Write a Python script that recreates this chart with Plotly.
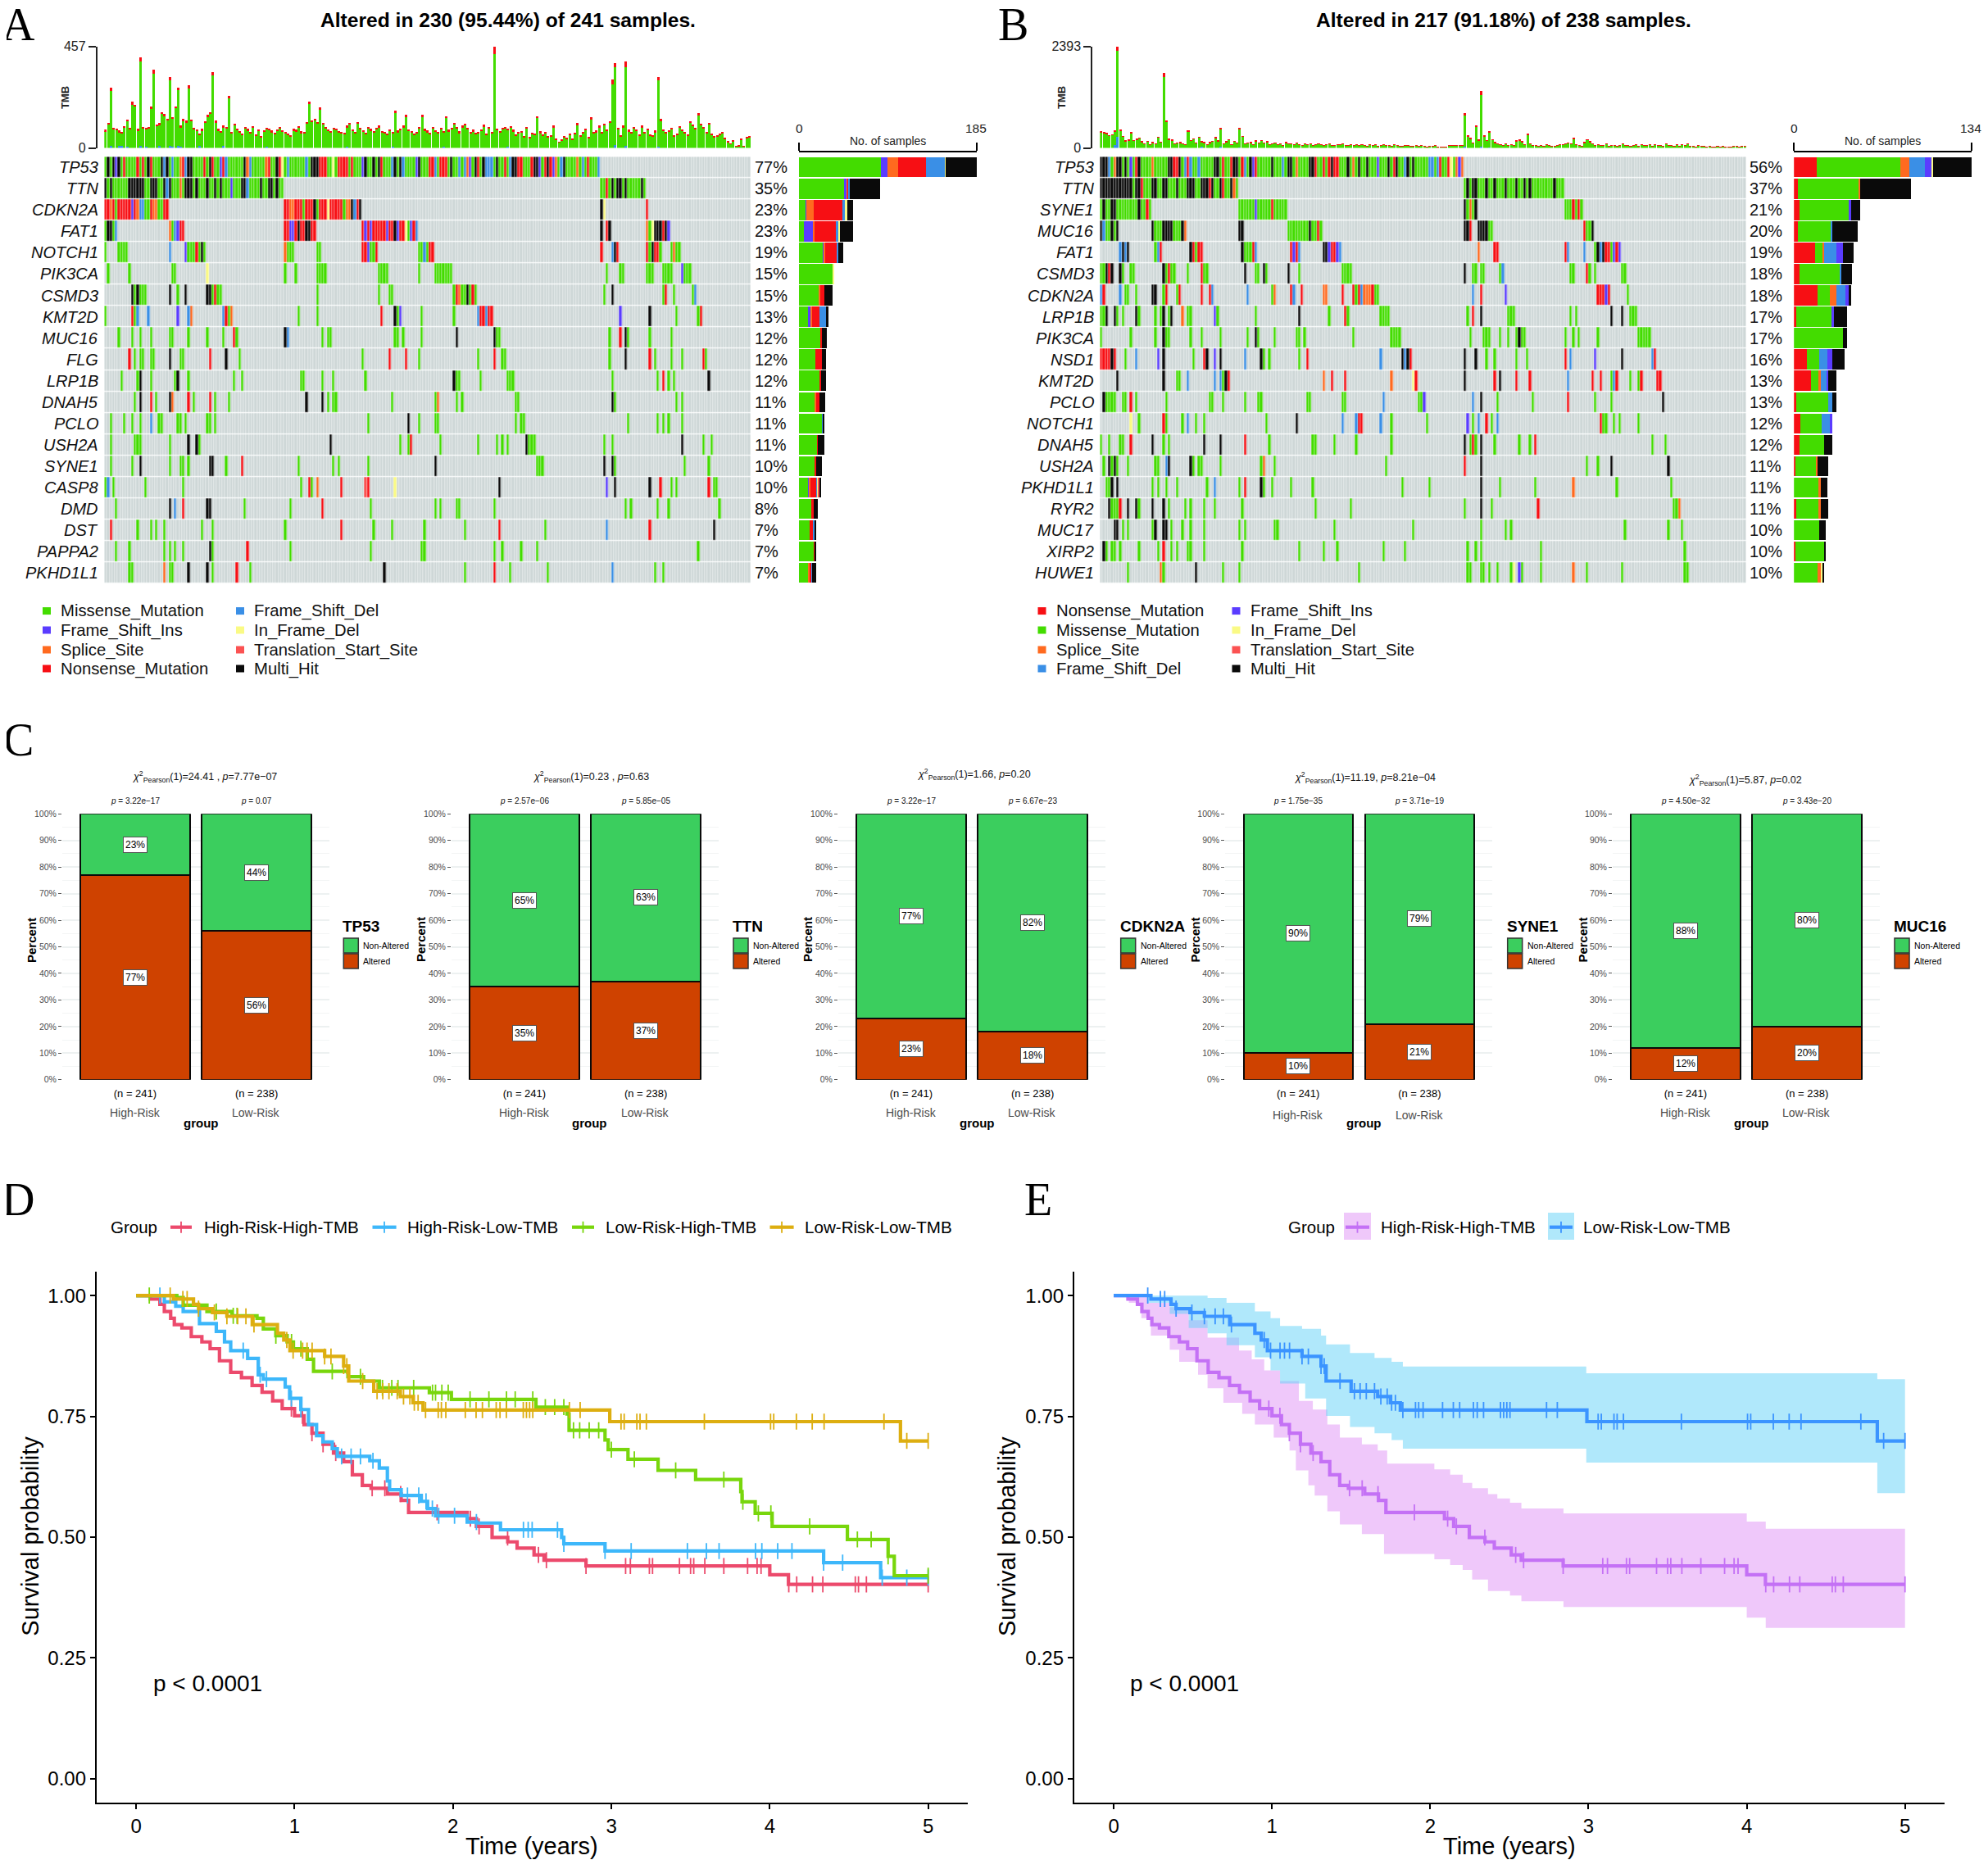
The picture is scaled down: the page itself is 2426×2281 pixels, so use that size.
import plotly.graph_objects as go

# page size minus the 8px body margin the browser adds round the plot
PAD = 8
PW = 2426 - 2 * PAD
PH = 2281 - 2 * PAD

SANS = "Liberation Sans"
SERIF = "Liberation Serif"

# ---------- oncoplot data ----------
genes_a = ["TP53", "TTN", "CDKN2A", "FAT1", "NOTCH1", "PIK3CA", "CSMD3", "KMT2D", "MUC16", "FLG",
           "LRP1B", "DNAH5", "PCLO", "USH2A", "SYNE1", "CASP8", "DMD", "DST", "PAPPA2", "PKHD1L1"]
pct_a = [77, 35, 23, 23, 19, 15, 15, 13, 12, 12, 12, 11, 11, 11, 10, 10, 8, 7, 7, 7]
genes_b = ["TP53", "TTN", "SYNE1", "MUC16", "FAT1", "CSMD3", "CDKN2A", "LRP1B", "PIK3CA", "NSD1",
           "KMT2D", "PCLO", "NOTCH1", "DNAH5", "USH2A", "PKHD1L1", "RYR2", "MUC17", "XIRP2", "HUWE1"]
pct_b = [56, 37, 21, 20, 19, 18, 18, 17, 17, 16, 13, 13, 12, 12, 11, 11, 11, 10, 10, 10]

# "start:letters", one letter per sample:
# M missense, I frame ins, S splice, N nonsense, D frame del, F in frame del, T start site, K multi hit
muts_a = [
    "0:MKMKIKMNMMMMNMNMKNMM 20:MKDKMDMMSNDKKMMMMNMK 40:NMMINDMMMMMMKSDMMMMM 60:SNMMKNFMDMMMMMMDMKKK 80:NNNMMFMNNNNMNMMMIKMM 100:KMKNMMMDKMKDMMMMIKMM 120:MNNDMNNNMKMMDMDSIMKN 140:MKDDDMKMMNMDKKNNMMMN 160:KKIMNKNISMDKMMMMSMDM 180:NMMMD",
    "0:KMKMMMMMMKKKKKKMMKKK 20:MMKDKMMMSMKKKMKMMMKM 40:MKMKMMMIMMMKKDMMMMKM 60:MKKMKMM 185:MMNMKMKKMKMMMMMKM",
    "0:NNSNMNNNNNINSDDMMNSSMMNN 67:NNSSNNNMNNNKMNNNFNNNNNMSSKDNK 185:KF 202:N",
    "0:MKKMD 24:SMDINN 67:NNIINKNNKKNN 96:NININNNNNINNKINNFMIND 185:K 187:NK 202:SMFKKKNKI",
    "0:M 5:MMMM 24:D 30:IMMMNMKM 67:SMMM 79:MM 96:NNIMMN 117:MMDMNN 185:N 189:DKN 202:NMKNNM 211:MSMM",
    "1:M 9:M 25:MM 38:F 67:M 71:M 79:MMMM 102:MMMM 117:M 123:MMMMMMM 187:M 192:MM 202:MMM 208:MMMM 215:IMMM",
    "10:KMKMMM 24:K 27:M 30:K 38:KKMNMM 79:M 102:M 106:MM 130:MNSMMKMNM 186:M 189:K 208:MN 212:M 219:MD",
    "0:M 10:NMD 16:D 27:I 31:DS 44:DNMS 72:M 79:M 103:N 108:KMI 118:M 130:M 139:DNNDNN 192:I 203:K 213:M 221:MN",
    "5:M 10:M 13:M 17:M 24:MM 31:M 38:M 44:M 48:NM 67:KD 81:M 83:MM 108:MM 111:M 118:M 131:K 145:KM 147:M 188:M 192:N 194:KM 203:M 211:M",
    "9:N 11:M 13:MM 17:MM 24:K 28:MM 39:N 45:K 50:M 96:M 106:N 112:N 117:M 139:M 145:N 148:MM 188:M 194:K 203:N 205:M 211:M 215:M 223:NM",
    "6:M 12:MK 17:M 26:MK 31:M 48:M 51:M 73:MM 81:M 85:M 97:M 130:KMM 140:M 150:MMM 189:M 206:M 208:N 210:M 212:M 225:K",
    "11:M 13:K 17:N 19:M 24:KS 31:N 33:M 39:N 41:M 46:M 75:K 81:K 83:M 85:MM 107:M 123:MS 131:M 133:M 153:MM 189:KM 213:M 215:M",
    "2:M 7:M 10:M 13:M 17:D 20:MM 27:MM 30:M 38:MM 41:M 98:M 113:K 117:M 123:MM 153:M 155:MM 195:M 206:M 208:M 210:M 215:M",
    "2:M 11:MMM 24:M 31:K 34:KM 84:K 110:M 113:MN 125:M 139:M 146:M 148:M 150:M 157:KMMM 186:M 189:M 215:K 223:M 226:M",
    "2:M 10:M 13:K 24:M 28:MM 31:M 39:KK 45:M 51:N 72:M 85:M 87:M 98:M 123:K 161:MMM 186:K 189:KM 216:M 225:M",
    "0:MD 3:M 15:M 29:M 73:M 76:NM 79:S 88:N 97:TN 108:F 147:K 187:I 190:K 203:K 207:N 211:M 213:M 225:N 227:MM",
    "4:M 24:K 26:D 29:N 38:KK 52:M 69:M 81:N 99:M 123:M 125:M 131:MM 145:M 194:M 196:M 206:M 210:M 229:M",
    "2:N 12:M 17:M 19:M 22:M 36:M 40:M 67:M 88:N 100:M 107:M 119:M 134:M 147:N 164:M 187:D 203:N 227:K",
    "4:M 9:M 22:M 24:M 26:M 29:M 39:KM 53:N 69:M 99:M 118:MM 145:M 148:M 155:M 161:M 221:M",
    "9:MM 22:S 24:MM 31:K 38:K 40:M 49:N 54:M 104:K 134:M 145:N 151:M 165:M 189:D 205:M 208:M",
]
muts_b = [
    "0:KKKDMSKKMKMIMNKMMMMS 20:MMMMMKKNNKMDNDMMDMMM 40:MMKKMNMMNKKMNDMKINMM 60:MMMKMMMDMKKMSMMMMKKN 80:MMNMNKNNMMMKMSMKMMKM 100:MMIMMMKMNKMMDKMKMMMM 120:MDDMDNMMNFMSIS",
    "0:KKKKKKKKKKKKMKKNMMMK 20:KMMKKMMMKMMMKKKMMKKK 40:NKMMKNMMKSM 134:MKMKKMMMKMMKMMMKMMMK 154:MMKMKMMMMMMMMKMMM",
    "0:MKMMKK 6:MMMMMMMMKMMNM 51:MMMMMMIMMMMMNMMMMM 134:KMSMK 171:MMMNMNM",
    "0:KDMMKMK 19:KMMMKKKKMMMKS 51:KK 69:MMMMMMMMKMMNM 134:KKN 139:KKKKMM 178:NMMK",
    "7:DKDK 20:MDN 33:KNMNN 52:K 53:MMMND 70:NIND 82:KKINNID 139:S 145:NN 171:ND 178:D 182:MKDKNNMINI",
    "0:MMKNK 7:KM 11:MM 23:KMNMM 32:M 37:NM 39:M 53:K 57:MM 60:KM 69:K 73:M 89:MMMM 134:K 137:MM 140:MM 147:MD 173:MM 179:NM 182:M 192:MM",
    "0:DN 7:D 9:MM 13:M 19:KK 23:MN 28:MN 37:N 40:ND 54:D 63:MS 70:ND 74:N 82:SS 89:N 93:NMNDSSSNMM 137:D 140:N 149:I 183:NNNIN 194:M",
    "0:MMK 5:KM 8:M 13:KM 20:M 22:MK 25:MK 30:S 32:MM 42:IM 57:M 73:K 84:M 90:NM 103:MMMM 135:M 137:N 140:K 150:MMM 173:M 175:M 188:K 192:K 195:MMM",
    "0:M 11:M 20:M 23:KMM 33:M 37:M 44:M 54:M 57:KM 64:M 72:MM 75:M 93:M 107:MMMM 136:M 141:MMM 147:M 150:M 153:MKMM 171:M 174:M 176:M 183:M 198:MMMMM",
    "0:NNNNKN 9:M 13:D 21:I 23:K 34:M 38:NK 42:I 44:K 53:D 59:KM 62:M 73:M 76:N 103:D 111:KDKN 134:K 138:K 142:M 145:M 153:M 157:M 171:N 173:D 182:I 192:K 203:DN",
    "6:K 23:K 28:MM 32:D 42:D 44:DMKN 82:S 85:N 90:N 107:S 115:FN 134:K 145:N 147:K 153:N 158:N 172:D 181:N 184:N 188:MDN 195:M 198:MN 205:NN",
    "1:KMMMM 8:MM 11:N 13:M 24:M 40:MM 45:M 53:M 58:MM 76:MM 89:MM 104:D 117:MMI 137:D 140:K 146:M 159:M 172:N 182:M 188:M 207:K",
    "11:F 14:M 23:NM 30:M 32:D 35:M 38:M 61:M 72:K 89:D 94:DNN 103:D 107:M 120:M 135:I 137:M 139:D 142:N 144:M 146:D 184:NMM 189:M 191:M 198:M",
    "0:M 3:M 7:MM 11:N 19:K 23:M 25:M 38:K 44:K 53:N 62:M 78:MM 86:M 94:M 107:M 134:K 136:MNM 140:K 145:M 154:M 158:M 160:N 203:M 208:M",
    "1:M 3:KMKM 10:M 20:MM 24:DK 33:KM 36:MM 44:M 59:MS 64:M 105:M 134:N 140:K 179:M 183:M 188:K 209:K",
    "2:MMK 6:K 19:M 21:M 24:M 28:M 39:M 42:D 51:M 53:N 59:KM 63:M 70:M 78:M 111:M 121:M 140:K 147:M 160:M 174:S 190:M 210:M",
    "3:KMMMN 10:K 13:KM 19:K 23:K 25:M 31:M 33:M 38:M 42:M 52:M 79:M 92:M 134:M 140:K 144:M 161:N 211:MMS",
    "5:KK 8:M 10:M 19:MK 23:KK 26:M 30:M 33:M 38:M 51:M 53:M 64:MM 86:M 115:M 140:M 149:M 151:M 193:M 209:M 214:M",
    "1:KM 4:MM 7:M 14:M 21:M 23:N 26:M 28:M 32:MM 38:M 52:M 73:M 82:M 87:M 104:M 112:M 135:M 138:M 140:M 162:M 215:M",
    "10:M 22:SM 35:K 45:M 51:M 95:M 135:MM 140:MM 143:M 146:M 151:MF 154:IM 162:M 174:S 179:M 192:M 215:MM",
]

# side bars, samples per class, one row per gene
side_order_a = "MISNDFTK"
side_a = [
    [85, 7, 11, 29, 20, 1, 0, 32], [47, 3, 1, 1, 1, 0, 0, 31], [7, 1, 7, 30, 3, 2, 0, 6], [5, 10, 1, 22, 3, 2, 0, 13],
    [25, 1, 1, 12, 2, 0, 0, 5], [35, 0, 0, 0, 0, 1, 0, 0], [21, 0, 1, 4, 0, 0, 0, 9], [9, 3, 2, 7, 7, 0, 0, 3],
    [22, 0, 0, 2, 0, 0, 0, 5], [17, 0, 0, 7, 0, 0, 0, 4], [22, 0, 0, 1, 0, 0, 0, 5], [16, 0, 2, 3, 0, 0, 0, 6],
    [24, 0, 0, 0, 1, 0, 0, 1], [19, 0, 0, 1, 0, 0, 0, 6], [17, 0, 0, 1, 0, 0, 0, 6], [10, 1, 1, 6, 1, 1, 1, 2],
    [13, 0, 0, 2, 0, 0, 0, 5], [11, 0, 0, 4, 1, 0, 0, 2], [16, 0, 0, 1, 0, 0, 0, 1], [10, 0, 1, 2, 1, 0, 0, 4],
]
side_order_b = "NMSDIFTK"
side_b = [
    [17, 63, 7, 12, 5, 1, 0, 29], [3, 46, 1, 0, 0, 0, 0, 38], [4, 38, 0, 0, 1, 0, 0, 7], [3, 25, 0, 1, 0, 0, 0, 19],
    [16, 6, 1, 9, 5, 0, 0, 8], [4, 31, 0, 1, 0, 0, 0, 8], [18, 9, 5, 7, 2, 0, 0, 2], [2, 27, 0, 0, 1, 0, 0, 10],
    [0, 37, 0, 0, 0, 0, 0, 3], [10, 9, 0, 6, 4, 0, 0, 9], [13, 6, 1, 5, 1, 0, 0, 6], [2, 24, 0, 3, 0, 0, 0, 3],
    [5, 16, 0, 6, 2, 0, 0, 0], [4, 19, 0, 0, 0, 0, 0, 6], [1, 16, 1, 0, 0, 0, 0, 8], [0, 19, 1, 0, 0, 0, 0, 5],
    [2, 17, 1, 0, 0, 0, 0, 6], [0, 19, 0, 0, 0, 0, 0, 5], [1, 22, 0, 0, 0, 0, 0, 1], [0, 18, 3, 0, 0, 1, 0, 1],
]

# TMB per sample, the red cap of each bar, and the few visible frameshift bases
tmb_a = [
    82, 112, 270, 92, 85, 78, 72, 98, 128, 92, 208, 195, 86, 410, 95, 90, 96, 185, 352, 105,
    112, 160, 152, 132, 320, 138, 188, 272, 100, 130, 122, 282, 128, 92, 84, 62, 86, 120, 148, 162,
    342, 122, 86, 74, 100, 96, 236, 70, 110, 88, 74, 62, 94, 86, 72, 98, 60, 84, 52, 80,
    92, 88, 78, 66, 84, 96, 80, 72, 64, 58, 86, 82, 98, 74, 70, 118, 208, 124, 130, 116,
    182, 112, 96, 84, 76, 92, 88, 76, 70, 68, 100, 112, 84, 70, 116, 92, 80, 66, 94, 86,
    74, 92, 100, 76, 70, 64, 84, 72, 168, 78, 88, 100, 150, 84, 76, 62, 72, 96, 150, 86,
    78, 68, 96, 80, 70, 92, 76, 142, 82, 90, 112, 96, 74, 100, 108, 92, 72, 82, 68, 70,
    84, 104, 62, 94, 70, 457, 88, 76, 92, 96, 88, 98, 82, 60, 70, 76, 52, 94, 50, 66,
    62, 142, 74, 60, 72, 54, 58, 100, 40, 28, 38, 52, 44, 64, 40, 66, 112, 56, 70, 88,
    48, 137, 70, 78, 100, 72, 110, 84, 120, 310, 384, 90, 58, 100, 390, 82, 70, 96, 84, 60,
    100, 70, 88, 60, 58, 78, 320, 130, 84, 70, 80, 92, 58, 64, 98, 84, 72, 60, 120, 106,
    90, 156, 110, 96, 70, 112, 62, 52, 58, 64, 70, 44, 30, 20, 34, 8, 10, 40, 8, 48, 52,
]
cap_a = [
    6, 8, 14, 6, 4, 6, 4, 6, 8, 6, 14, 10, 6, 22, 6, 6, 6, 8, 16, 6,
    6, 8, 10, 8, 14, 8, 10, 12, 6, 6, 6, 14, 8, 6, 6, 4, 6, 6, 8, 8,
    16, 8, 6, 4, 6, 6, 12, 4, 6, 6, 4, 4, 6, 6, 4, 6, 4, 6, 4, 6,
    6, 6, 6, 4, 6, 6, 6, 4, 4, 4, 6, 6, 6, 6, 4, 8, 12, 8, 8, 8,
    10, 8, 6, 6, 4, 6, 6, 4, 4, 4, 6, 8, 6, 4, 8, 6, 6, 4, 6, 6,
    4, 6, 6, 6, 4, 4, 6, 4, 10, 6, 6, 6, 10, 6, 6, 4, 6, 6, 10, 6,
    6, 4, 6, 6, 4, 6, 6, 8, 6, 6, 8, 6, 6, 6, 8, 6, 4, 6, 4, 4,
    6, 6, 4, 6, 4, 34, 6, 6, 6, 6, 6, 6, 6, 4, 4, 6, 4, 6, 4, 4,
    4, 8, 6, 4, 4, 4, 4, 6, 4, 2, 4, 4, 4, 4, 4, 4, 6, 4, 4, 6,
    4, 8, 4, 6, 6, 6, 8, 6, 8, 22, 20, 6, 4, 6, 26, 6, 4, 6, 6, 4,
    6, 4, 6, 4, 4, 6, 16, 10, 6, 4, 6, 6, 4, 4, 6, 6, 4, 4, 8, 8,
    6, 10, 8, 6, 4, 8, 4, 4, 4, 4, 4, 4, 2, 2, 2, 1, 1, 2, 1, 4, 4,
]
fs_idx_a = [2, 5, 6, 8, 13, 15, 20, 24, 25, 27, 28, 35, 44, 60, 90, 107, 126, 150, 190, 194, 206]
fs_val_a = [8, 10, 8, 6, 8, 6, 10, 8, 6, 10, 6, 8, 8, 4, 6, 4, 4, 6, 12, 10, 6]

tmb_b = [
    400, 380, 350, 300, 320, 420, 2393, 440, 280, 170, 190, 370, 180, 210, 240, 150, 110, 160, 90, 130,
    100, 260, 140, 1761, 640, 210, 190, 110, 120, 130, 100, 90, 414, 180, 220, 120, 260, 150, 130, 90,
    130, 160, 250, 170, 466, 110, 150, 200, 90, 160, 120, 466, 280, 100, 120, 130, 90, 170, 120, 180,
    120, 150, 90, 100, 120, 90, 110, 70, 130, 100, 110, 90, 120, 80, 70, 110, 90, 100, 70, 90,
    110, 80, 60, 90, 110, 70, 60, 90, 80, 100, 60, 70, 80, 60, 90, 70, 80, 60, 50, 80,
    60, 90, 50, 70, 80, 60, 70, 50, 80, 60, 50, 40, 70, 60, 50, 40, 60, 50, 70, 40,
    30, 40, 50, 60, 30, 20, 30, 30, 60, 70, 70, 60, 70, 60, 818, 300, 230, 120, 540, 190,
    1336, 290, 180, 383, 200, 130, 110, 90, 70, 100, 60, 80, 60, 170, 190, 150, 90, 330, 100, 60,
    70, 50, 60, 40, 90, 60, 50, 40, 70, 80, 90, 110, 120, 100, 228, 90, 60, 50, 130, 200,
    150, 100, 60, 90, 70, 60, 100, 50, 60, 70, 50, 60, 110, 60, 70, 50, 60, 90, 40, 80,
    60, 70, 80, 50, 90, 60, 70, 40, 100, 70, 60, 50, 80, 50, 90, 60, 100, 40, 50, 30,
    60, 40, 50, 30, 40, 20, 30, 40, 20, 50, 30, 20, 30, 50, 40, 30, 50, 40,
]
cap_b = [
    20, 20, 16, 14, 16, 20, 110, 22, 14, 10, 10, 18, 10, 10, 12, 8, 6, 8, 6, 8,
    6, 12, 8, 90, 40, 10, 10, 6, 6, 8, 6, 6, 20, 10, 10, 6, 12, 8, 8, 6,
    8, 8, 12, 8, 24, 6, 8, 10, 6, 8, 6, 24, 14, 6, 6, 8, 6, 8, 6, 10,
    6, 8, 6, 6, 6, 6, 6, 4, 8, 6, 6, 6, 6, 4, 4, 6, 6, 6, 4, 6,
    6, 4, 4, 6, 6, 4, 4, 6, 4, 6, 4, 4, 4, 4, 6, 4, 4, 4, 4, 4,
    4, 6, 4, 4, 4, 4, 4, 4, 4, 4, 4, 4, 4, 4, 4, 2, 4, 4, 4, 2,
    2, 2, 4, 4, 2, 2, 2, 2, 4, 4, 4, 4, 4, 4, 50, 16, 12, 8, 30, 10,
    90, 16, 10, 20, 10, 8, 6, 6, 4, 6, 4, 4, 4, 10, 10, 8, 6, 20, 6, 4,
    4, 4, 4, 2, 6, 4, 4, 2, 4, 4, 6, 6, 8, 6, 16, 6, 4, 4, 8, 12,
    8, 6, 4, 6, 4, 4, 6, 4, 4, 4, 4, 4, 6, 4, 4, 4, 4, 6, 2, 4,
    4, 4, 4, 4, 6, 4, 4, 2, 6, 4, 4, 4, 4, 4, 6, 4, 6, 2, 4, 2,
    4, 2, 4, 2, 2, 2, 2, 2, 2, 4, 2, 2, 2, 4, 2, 2, 4, 2,
]
fs_idx_b = [5, 6, 37, 44, 51, 134, 140, 143]
fs_val_b = [60, 260, 30, 30, 16, 30, 20, 14]

class_names = {"M": "Missense_Mutation", "I": "Frame_Shift_Ins", "S": "Splice_Site", "N": "Nonsense_Mutation",
               "D": "Frame_Shift_Del", "F": "In_Frame_Del", "T": "Translation_Start_Site", "K": "Multi_Hit"}
class_colors = {"M": "#43DC00", "I": "#5A3CFF", "S": "#FF6A1F", "N": "#F70F14",
                "D": "#3A8FE6", "F": "#FAFA85", "T": "#FB5252", "K": "#0A0A0A"}
class_codes = "MISNDFTK"
legend_a = ["M", "I", "S", "N", "D", "F", "T", "K"]
legend_b = ["N", "M", "S", "D", "I", "F", "T", "K"]

# ---------- stacked bars, panel C ----------
c_genes = ["TP53", "TTN", "CDKN2A", "SYNE1", "MUC16"]
c_alt_high = [77, 35, 23, 10, 12]
c_alt_low = [56, 37, 18, 21, 20]
c_non_high = [23, 65, 77, 90, 88]
c_non_low = [44, 63, 82, 79, 80]
c_chi = ["24.41 ", "0.23 ", "1.66", "11.19", "5.87"]
c_chi_p = ["7.77e−07", "0.63", "0.20", "8.21e−04", "0.02"]
c_p_high = ["3.22e−17", "2.57e−06", "3.22e−17", "1.75e−35", "4.50e−32"]
c_p_low = ["0.07", "5.85e−05", "6.67e−23", "3.71e−19", "3.43e−20"]
c_n = ["(n = 241)", "(n = 238)"]
c_groups = ["High-Risk", "Low-Risk"]
c_pct_ticks = [0, 10, 20, 30, 40, 50, 60, 70, 80, 90, 100]
c_pct_labels = ["0%", "10%", "20%", "30%", "40%", "50%", "60%", "70%", "80%", "90%", "100%"]

# ---------- survival curves ----------
hh_t = [0, 0.09, 0.15, 0.178, 0.218, 0.241, 0.289, 0.348, 0.415, 0.467, 0.526, 0.597, 0.665, 0.732, 0.795, 0.862, 0.922,
        1.0, 1.06, 1.11, 1.18, 1.246, 1.31, 1.365, 1.428, 1.483, 1.586, 1.673, 1.72, 2.09, 2.148, 2.247, 2.346, 2.405,
        2.512, 2.575, 2.84, 4.0, 4.118, 5.0]
hh_s = [1, 0.993, 0.982, 0.967, 0.953, 0.94, 0.933, 0.915, 0.904, 0.89, 0.865, 0.841, 0.83, 0.814, 0.8, 0.782, 0.766,
        0.751, 0.733, 0.715, 0.692, 0.674, 0.656, 0.629, 0.607, 0.601, 0.589, 0.576, 0.551, 0.538, 0.522, 0.499, 0.49,
        0.477, 0.463, 0.452, 0.44, 0.422, 0.402, 0.402]
hh_cens = [0.98, 1.05, 1.11, 1.18, 1.26, 1.49, 1.57, 1.67, 1.9, 2.11, 2.165, 2.345, 2.54, 2.59, 2.84, 3.09, 3.12, 3.24,
           3.26, 3.43, 3.5, 3.52, 3.59, 3.71, 3.86, 3.92, 3.945, 4.12, 4.17, 4.27, 4.335, 4.54, 4.56, 4.61, 5.0]

hl_t = [0, 0.178, 0.25, 0.297, 0.4, 0.506, 0.558, 0.597, 0.704, 0.771, 0.803, 0.941, 0.969, 1.04, 1.088, 1.139, 1.179,
        1.238, 1.27, 1.475, 1.535, 1.586, 1.6, 1.673, 1.8, 1.84, 1.89, 2.09, 2.15, 2.3, 2.686, 2.7, 2.96, 4.34, 4.7, 5.0]
hl_s = [1, 0.987, 0.978, 0.967, 0.942, 0.926, 0.904, 0.886, 0.87, 0.836, 0.827, 0.811, 0.787, 0.764, 0.733, 0.71, 0.697,
        0.683, 0.667, 0.658, 0.643, 0.616, 0.598, 0.586, 0.574, 0.559, 0.544, 0.531, 0.529, 0.515, 0.499, 0.486, 0.471,
        0.447, 0.416, 0.416]
hl_cens = [0.15, 0.676, 0.783, 0.823, 0.98, 1.04, 1.297, 1.357, 1.416, 1.495, 1.713, 1.784, 1.83, 1.87, 1.91, 2.01,
           2.148, 2.445, 2.475, 2.5, 2.66, 2.7, 2.96, 3.125, 3.48, 3.6, 3.68, 3.91, 3.95, 4.05, 4.14, 4.34, 4.46, 4.71,
           4.865, 5.0]

lh_t = [0, 0.257, 0.297, 0.447, 0.605, 0.763, 0.803, 0.882, 0.953, 0.993, 1.08, 1.12, 1.337, 1.436, 1.535, 1.851, 1.99,
        2.524, 2.72, 2.733, 2.96, 2.98, 3.105, 3.295, 3.532, 3.817, 3.825, 3.908, 4.015, 4.49, 4.747, 4.786, 5.0]
lh_s = [1, 0.996, 0.98, 0.967, 0.958, 0.953, 0.931, 0.917, 0.904, 0.89, 0.868, 0.843, 0.832, 0.823, 0.809, 0.799, 0.785,
        0.769, 0.755, 0.721, 0.701, 0.681, 0.661, 0.638, 0.619, 0.594, 0.573, 0.549, 0.522, 0.495, 0.46, 0.42, 0.42]
lh_cens = [0.083, 0.506, 0.613, 0.637, 0.882, 0.981, 1.04, 1.238, 1.416, 1.555, 1.614, 1.653, 1.752, 1.871, 1.89, 1.93,
           1.97, 2.108, 2.227, 2.338, 2.393, 2.504, 2.583, 2.642, 2.7, 2.761, 2.8, 2.86, 2.92, 3.0, 3.145, 3.406, 3.71,
           3.83, 3.928, 4.007, 4.252, 4.553, 4.64, 4.747, 5.0]

ll_t = [0, 0.235, 0.362, 0.394, 0.482, 0.573, 0.733, 0.892, 0.932, 0.971, 1.19, 1.31, 1.342, 1.5, 1.668, 1.748, 1.811,
        2.99, 4.825, 5.0]
ll_s = [1, 0.993, 0.982, 0.973, 0.965, 0.957, 0.94, 0.922, 0.908, 0.886, 0.874, 0.854, 0.823, 0.802, 0.791, 0.778,
        0.763, 0.739, 0.699, 0.699]
ll_cens = [0.215, 0.295, 0.322, 0.394, 0.494, 0.573, 0.641, 0.693, 0.744, 0.951, 0.991, 1.051, 1.079, 1.111, 1.19, 1.23,
           1.31, 1.33, 1.43, 1.521, 1.557, 1.596, 1.648, 1.688, 1.728, 1.756, 1.78, 1.827, 1.907, 1.927, 1.955, 2.078,
           2.146, 2.186, 2.273, 2.297, 2.337, 2.444, 2.464, 2.484, 2.504, 2.735, 2.803, 3.061, 3.081, 3.161, 3.181,
           3.221, 3.587, 4.005, 4.025, 4.168, 4.268, 4.343, 4.721, 4.865, 5.0]

# confidence bands, panel E
hh_up_t = [0.096, 0.215, 0.354, 0.474, 0.593, 0.792, 0.872, 0.951, 1.051, 1.17, 1.258, 1.35, 1.429, 1.568, 1.668, 1.728,
           2.026, 2.126, 2.205, 2.265, 2.365, 2.424, 2.504, 2.576, 2.842, 4.0, 4.12, 5.0]
hh_up_s = [1.0, 0.985, 0.976, 0.949, 0.913, 0.886, 0.868, 0.845, 0.823, 0.782, 0.764, 0.733, 0.706, 0.692, 0.679, 0.652,
           0.64, 0.629, 0.612, 0.601, 0.589, 0.58, 0.571, 0.559, 0.549, 0.532, 0.517, 0.517]
hh_lo_t = [0.096, 0.175, 0.235, 0.354, 0.414, 0.533, 0.593, 0.693, 0.812, 0.892, 1.011, 1.111, 1.151, 1.23, 1.27, 1.35,
           1.429, 1.568, 1.708, 2.026, 2.126, 2.205, 2.265, 2.365, 2.504, 2.576, 2.842, 4.0, 4.12, 5.0]
hh_lo_s = [0.985, 0.953, 0.917, 0.888, 0.863, 0.836, 0.808, 0.778, 0.755, 0.733, 0.706, 0.679, 0.638, 0.607, 0.586,
           0.553, 0.526, 0.506, 0.465, 0.454, 0.442, 0.432, 0.412, 0.388, 0.379, 0.367, 0.355, 0.333, 0.312, 0.312]
ll_up_t = [0.215, 0.593, 0.713, 0.892, 0.991, 1.051, 1.19, 1.31, 1.342, 1.493, 1.648, 1.756, 1.827, 2.986, 4.825, 5.0]
ll_up_s = [1.0, 0.995, 0.985, 0.967, 0.953, 0.937, 0.931, 0.917, 0.899, 0.881, 0.871, 0.863, 0.853, 0.839, 0.827, 0.827]
ll_lo_t = [0.215, 0.354, 0.474, 0.593, 0.713, 0.892, 0.991, 1.051, 1.21, 1.342, 1.493, 1.648, 1.756, 1.827, 2.986, 4.825,
           5.0]
ll_lo_s = [0.985, 0.962, 0.933, 0.922, 0.897, 0.872, 0.845, 0.818, 0.787, 0.751, 0.728, 0.715, 0.701, 0.683, 0.654,
           0.591, 0.591]


def X(x):
    return (x - PAD) / PW


def Y(y):
    return 1 - (y - PAD) / PH


fig = go.Figure()
annotations = []
shapes = []
layout = {}


def note(text, x, y, size, anchor="left", bold=False, color="#000000", angle=0, family=SANS, italic=False):
    if bold:
        text = "<b>" + text + "</b>"
    if italic:
        text = "<i>" + text + "</i>"
    # annotation boxes carry a small inner pad
    if anchor == "left":
        x -= 2
    elif anchor == "right":
        x += 2
    annotations.append(dict(text=text, x=X(x), y=Y(y), xref="paper", yref="paper", xanchor=anchor, yanchor="middle",
                            showarrow=False, textangle=angle, font=dict(family=family, size=size, color=color)))


def rect(x0, y0, x1, y1, fill, line=None, width=0):
    shapes.append(dict(type="rect", xref="paper", yref="paper", x0=X(x0), x1=X(x1), y0=Y(y0), y1=Y(y1),
                       fillcolor=fill, line=dict(color=line or fill, width=width), layer="above"))


def seg(x0, y0, x1, y1, color, width):
    shapes.append(dict(type="line", xref="paper", yref="paper", x0=X(x0), x1=X(x1), y0=Y(y0), y1=Y(y1),
                       line=dict(color=color, width=width), layer="above"))


def parse_row(text, n):
    row = [0] * n
    for part in text.split():
        start, letters = part.split(":")
        for i, ch in enumerate(letters):
            row[int(start) + i] = class_codes.index(ch) + 1
    return row


def oncoplot(ax, genes, muts, pct, tmb, cap, fs_idx, fs_val, side, order, legend, title, tmax, smax, g):
    n = len(tmb)
    ax_t, ax_h, ax_s = ax, ax + 1, ax + 2
    suffix = lambda i: "" if i == 1 else str(i)
    colors = ["#CED7D7"] + [class_colors[c] for c in class_codes]
    steps = len(colors)
    scale = []
    for i, c in enumerate(colors):
        scale += [[i / steps, c], [(i + 1) / steps, c]]

    # TMB strip
    fs = [0] * n
    for i, v in zip(fs_idx, fs_val):
        fs[i] = v
    idx = list(range(n))
    mis = [t - c - f for t, c, f in zip(tmb, cap, fs)]
    for vals, col in ((fs, class_colors["D"]), (mis, class_colors["M"]), (cap, class_colors["N"])):
        fig.add_trace(go.Bar(x=idx, y=vals, width=0.92, marker=dict(color=col, line=dict(width=0)),
                             xaxis="x" + suffix(ax_t), yaxis="y" + suffix(ax_t), showlegend=False, hoverinfo="skip"))
    layout["xaxis" + suffix(ax_t)] = dict(domain=[X(g["heat0"]), X(g["heat1"])], range=[-0.5, n - 0.5], visible=False,
                                          anchor="y" + suffix(ax_t))
    layout["yaxis" + suffix(ax_t)] = dict(domain=[Y(180.5), Y(56.8)], range=[0, tmax], tickvals=[0, tmax],
                                          anchor="free", position=X(g["axis"]), showline=True, linecolor="#222222",
                                          linewidth=1.5, ticks="outside", ticklen=9, tickcolor="#222222", tickwidth=1.5,
                                          showgrid=False, zeroline=False,
                                          tickfont=dict(family=SANS, size=16, color="#222222"))

    # mutation matrix
    z = [parse_row(r, n) for r in muts]
    fig.add_trace(go.Heatmap(z=z, x=idx, y=list(range(20)), zmin=0, zmax=steps, colorscale=scale, showscale=False,
                             xgap=0.5, ygap=1.2, xaxis="x" + suffix(ax_h), yaxis="y" + suffix(ax_h), hoverinfo="skip"))
    layout["xaxis" + suffix(ax_h)] = dict(domain=[X(g["heat0"]), X(g["heat1"])], range=[-0.5, n - 0.5], visible=False,
                                          anchor="y" + suffix(ax_h))
    layout["yaxis" + suffix(ax_h)] = dict(domain=[Y(712.2), Y(191.2)], range=[19.5, -0.5], visible=False,
                                          anchor="x" + suffix(ax_h))

    # side bars
    for k, code in enumerate(order):
        fig.add_trace(go.Bar(y=list(range(20)), x=[row[k] for row in side], orientation="h", width=0.94,
                             marker=dict(color=class_colors[code], line=dict(width=0)),
                             xaxis="x" + suffix(ax_s), yaxis="y" + suffix(ax_s), showlegend=False, hoverinfo="skip"))
    layout["xaxis" + suffix(ax_s)] = dict(domain=[X(g["side0"]), X(g["side1"])], range=[0, smax], side="top",
                                          anchor="free", position=Y(185), tickvals=[0, smax], ticks="outside",
                                          ticklen=10, tickwidth=1.5, tickcolor="#000000", showline=True,
                                          linecolor="#000000", linewidth=1.5, showgrid=False, zeroline=False,
                                          showticklabels=False)
    layout["yaxis" + suffix(ax_s)] = dict(domain=[Y(712.2), Y(191.2)], range=[19.5, -0.5], visible=False,
                                          anchor="x" + suffix(ax_s))

    note("0", g["side0"], 156, 15.5, anchor="center", color="#222222")
    note(str(smax), g["side1"] - 1, 156, 15.5, anchor="center", color="#222222")
    note("No. of samples", (g["side0"] + g["side1"]) / 2, 172, 14, anchor="center", color="#222222")
    note(title, g["title"], 25, 24.6, anchor="center", bold=True)
    note("TMB", g["tmb"], 119, 13, anchor="center", bold=True, angle=-90, color="#222222")
    row_h = (712.2 - 191.2) / 20
    for i, (gene, p) in enumerate(zip(genes, pct)):
        y = 191.2 + row_h * (i + 0.5)
        note(gene, g["gene"], y, 20, anchor="right", italic=True, color="#111111")
        note(str(p) + "%", g["pct"] + 2, y, 20, color="#111111")

    # legend, two columns of four
    leg_y = [745.6, 769, 793, 816]
    for i, code in enumerate(legend):
        col = 0 if i < 4 else 1
        y = leg_y[i % 4]
        sq = g["leg0"] if col == 0 else g["leg1"]
        rect(sq - 5, y - 4.5, sq + 5, y + 4.5, class_colors[code])
        note(class_names[code], sq + 17, y, 20.3, color="#111111")


geo_a = dict(heat0=127.3, heat1=916, axis=117.6, side0=975, side1=1192, title=620, tmb=79, gene=120, pct=918.5,
             leg0=57, leg1=293)
geo_b = dict(heat0=1342.3, heat1=2130.8, axis=1332, side0=2189.2, side1=2406, title=1835, tmb=1295, gene=1334.6,
             pct=2133, leg0=1271.5, leg1=1508.5)

oncoplot(1, genes_a, muts_a, pct_a, tmb_a, cap_a, fs_idx_a, fs_val_a, side_a, side_order_a, legend_a,
         "Altered in 230 (95.44%) of 241 samples.", 457, 185, geo_a)
oncoplot(4, genes_b, muts_b, pct_b, tmb_b, cap_b, fs_idx_b, fs_val_b, side_b, side_order_b, legend_b,
         "Altered in 217 (91.18%) of 238 samples.", 2393, 134, geo_b)

# ---------- panel C ----------
ALT = "#CF4200"
NON = "#3BCE5E"
c_left = [76, 551, 1023, 1495.3, 1968]
c_chi_x = [250, 721, 1189, 1666, 2130]
c_chi_y = [948, 948, 945, 949, 952]
c_percent_x = [38, 513, 985, 1457.6, 1930.6]
c_group_x = [245, 719, 1192, 1664.5, 2137]
c_legend_x = [418.3, 894, 1366.7, 1838.7, 2311]
c_risk_y = [1358, 1358, 1358, 1361, 1358]

for i, gene in enumerate(c_genes):
    ax = 7 + i
    xa, ya = "x" + str(ax), "y" + str(ax)
    left = c_left[i]
    fig.add_trace(go.Bar(x=[1, 2], y=[c_alt_high[i], c_alt_low[i]], width=0.9, xaxis=xa, yaxis=ya, showlegend=False,
                         hoverinfo="skip", marker=dict(color=ALT, line=dict(color="#0A0A0A", width=2))))
    fig.add_trace(go.Bar(x=[1, 2], y=[c_non_high[i], c_non_low[i]], width=0.9, xaxis=xa, yaxis=ya, showlegend=False,
                         hoverinfo="skip", marker=dict(color=NON, line=dict(color="#0A0A0A", width=2))))
    layout["xaxis" + str(ax)] = dict(domain=[X(left), X(left + 326)], range=[0.4, 2.6], anchor=ya, tickvals=[1, 2],
                                     ticktext=c_n, ticks="", showgrid=False, zeroline=False, showline=False,
                                     ticklabelstandoff=7, tickfont=dict(family=SANS, size=13, color="#000000"))
    layout["yaxis" + str(ax)] = dict(domain=[Y(1317.7), Y(993.3)], range=[0, 100], anchor=xa, tickvals=c_pct_ticks,
                                     ticktext=c_pct_labels, ticks="outside", ticklen=4, tickcolor="#555555",
                                     gridcolor="#EDF1F1", gridwidth=1.5, zeroline=False, showline=False,
                                     minor=dict(dtick=5, showgrid=True, gridcolor="#F3F5F5", gridwidth=1, ticks=""),
                                     tickfont=dict(family=SANS, size=10.5, color="#4D4D4D"))
    for x, alt, non in ((1, c_alt_high[i], c_non_high[i]), (2, c_alt_low[i], c_non_low[i])):
        for val, y in ((alt, alt / 2), (non, alt + non / 2)):
            annotations.append(dict(text=str(val) + "%", x=x, y=y, xref=xa, yref=ya, showarrow=False,
                                    bgcolor="#FFFFFF", bordercolor="#555555", borderwidth=1, borderpad=2,
                                    font=dict(family=SANS, size=12, color="#000000")))
    note("<i>χ</i><sup>2</sup><sub>Pearson</sub>(1)=" + c_chi[i] + ", <i>p</i>=" + c_chi_p[i],
         c_chi_x[i], c_chi_y[i], 12.5, anchor="center", color="#111111")
    bar1 = left + 88.5
    bar2 = left + 236.8
    note("<i>p</i> = " + c_p_high[i], bar1, 977, 10, anchor="center", color="#111111")
    note("<i>p</i> = " + c_p_low[i], bar2, 977, 10, anchor="center", color="#111111")
    note(c_groups[0], bar1, c_risk_y[i], 14, anchor="center", color="#4D4D4D")
    note(c_groups[1], bar2, c_risk_y[i], 14, anchor="center", color="#4D4D4D")
    note("group", c_group_x[i], 1370.7, 15, anchor="center", bold=True)
    note("Percent", c_percent_x[i], 1147, 15, anchor="center", bold=True, angle=-90)
    lx = c_legend_x[i]
    note(gene, lx, 1130, 19, bold=True)
    rect(lx + 1, 1145, lx + 19, 1163, NON, "#333333", 1.5)
    rect(lx + 1, 1164, lx + 19, 1182, ALT, "#333333", 1.5)
    note("Non-Altered", lx + 25, 1153.5, 10.5)
    note("Altered", lx + 25, 1172.5, 10.5)


# ---------- panels D and E ----------
def step_at(ts, ss, t):
    val = ss[0]
    for a, b in zip(ts, ss):
        if a <= t:
            val = b
    return val


def km_curve(ax, ts, ss, cens, color):
    suf = str(ax)
    fig.add_trace(go.Scatter(x=ts, y=ss, mode="lines", line=dict(color=color, width=4.2, shape="hv"),
                             xaxis="x" + suf, yaxis="y" + suf, showlegend=False, hoverinfo="skip"))
    fig.add_trace(go.Scatter(x=cens, y=[step_at(ts, ss, t) for t in cens], mode="markers",
                             marker=dict(symbol="line-ns", size=14, line=dict(color=color, width=1.8)),
                             xaxis="x" + suf, yaxis="y" + suf, showlegend=False, hoverinfo="skip"))


def km_band(ax, t_up, s_up, t_lo, s_lo, fill):
    suf = str(ax)
    fig.add_trace(go.Scatter(x=t_up, y=s_up, mode="lines", line=dict(width=0, shape="hv"),
                             xaxis="x" + suf, yaxis="y" + suf, showlegend=False, hoverinfo="skip"))
    fig.add_trace(go.Scatter(x=t_lo, y=s_lo, mode="lines", line=dict(width=0, shape="hv"), fill="tonexty",
                             fillcolor=fill, xaxis="x" + suf, yaxis="y" + suf, showlegend=False, hoverinfo="skip"))


def km_axes(ax, left, right):
    suf = str(ax)
    layout["xaxis" + suf] = dict(domain=[X(left), X(right)], range=[-0.25, 5.25], anchor="y" + suf,
                                 tickvals=[0, 1, 2, 3, 4, 5], ticks="outside", ticklen=6, tickwidth=2,
                                 showline=True, linecolor="#000000", linewidth=2, showgrid=False, zeroline=False,
                                 tickcolor="#000000", tickfont=dict(family=SANS, size=24, color="#000000"))
    layout["yaxis" + suf] = dict(domain=[Y(2200), Y(1551.7)], range=[-0.05, 1.05], anchor="x" + suf,
                                 tickvals=[0, 0.25, 0.5, 0.75, 1], tickformat=".2f", ticks="outside", ticklen=6,
                                 tickwidth=2, showline=True, linecolor="#000000", linewidth=2, showgrid=False,
                                 zeroline=False, tickcolor="#000000", tickfont=dict(family=SANS, size=24, color="#000000"))


RED = "#EC4A6C"
BLUE = "#3DB7FA"
GREEN = "#78D60C"
GOLD = "#DDAE10"
PURPLE = "#C471F5"
BLUE2 = "#3B94FF"
km_names = ["High-Risk-High-TMB", "High-Risk-Low-TMB", "Low-Risk-High-TMB", "Low-Risk-Low-TMB"]

km_curve(12, hh_t, hh_s, hh_cens, RED)
km_curve(12, hl_t, hl_s, hl_cens, BLUE)
km_curve(12, lh_t, lh_s, lh_cens, GREEN)
km_curve(12, ll_t, ll_s, ll_cens, GOLD)
km_axes(12, 117.8, 1181)

km_band(13, hh_up_t, hh_up_s, hh_lo_t, hh_lo_s, "rgba(223,145,245,0.5)")
km_band(13, ll_up_t, ll_up_s, ll_lo_t, ll_lo_s, "rgba(98,210,247,0.5)")
km_curve(13, hh_t, hh_s, hh_cens, PURPLE)
km_curve(13, ll_t, ll_s, ll_cens, BLUE2)
km_axes(13, 1310.8, 2373)

note("Survival probability", 36.7, 1875, 29, anchor="center", angle=-90)
note("Survival probability", 1229, 1875, 29, anchor="center", angle=-90)
note("Time (years)", 649, 2253, 29, anchor="center")
note("Time (years)", 1842, 2253, 29, anchor="center")
note("p &lt; 0.0001", 186.7, 2054, 28)
note("p &lt; 0.0001", 1379, 2054, 28)

LEG_Y = 1497.7
note("Group", 135.4, LEG_Y, 20.5)
for name, col, k0, k1, tx in zip(km_names, [RED, BLUE, GREEN, GOLD], [208, 454.5, 698, 939.5], [234, 483.6, 725, 968.6],
                                 [249.4, 497.3, 739, 982.4]):
    seg(k0, LEG_Y, k1, LEG_Y, col, 4.2)
    seg((k0 + k1) / 2, LEG_Y - 7, (k0 + k1) / 2, LEG_Y + 7, col, 1.8)
    note(name, tx, LEG_Y, 20.6)

note("Group", 1571.5, LEG_Y, 20.5)
rect(1640, 1480, 1673, 1513, "#EFC8FA")
rect(1889, 1480, 1921, 1513, "#B0E8FB")
seg(1642, LEG_Y, 1671, LEG_Y, PURPLE, 4.2)
seg(1656.5, LEG_Y - 7, 1656.5, LEG_Y + 7, PURPLE, 1.8)
seg(1891, LEG_Y, 1919, LEG_Y, BLUE2, 4.2)
seg(1905, LEG_Y - 7, 1905, LEG_Y + 7, BLUE2, 1.8)
note(km_names[0], 1685.4, LEG_Y, 20.6)
note(km_names[3], 1932, LEG_Y, 20.6)

# panel letters
for letter, x, y in (("A", 23, 30), ("B", 1236, 30), ("C", 22, 903), ("D", 22, 1464), ("E", 1267, 1464)):
    note(letter, x, y, 56, anchor="center", family=SERIF)

fig.update_layout(width=PW, height=PH, margin=dict(l=0, r=0, t=0, b=0, autoexpand=False), paper_bgcolor="#FFFFFF",
                  plot_bgcolor="#FFFFFF", barmode="stack", annotations=annotations, shapes=shapes, showlegend=False,
                  font=dict(family=SANS), **layout)

fig.write_html("out.html")
